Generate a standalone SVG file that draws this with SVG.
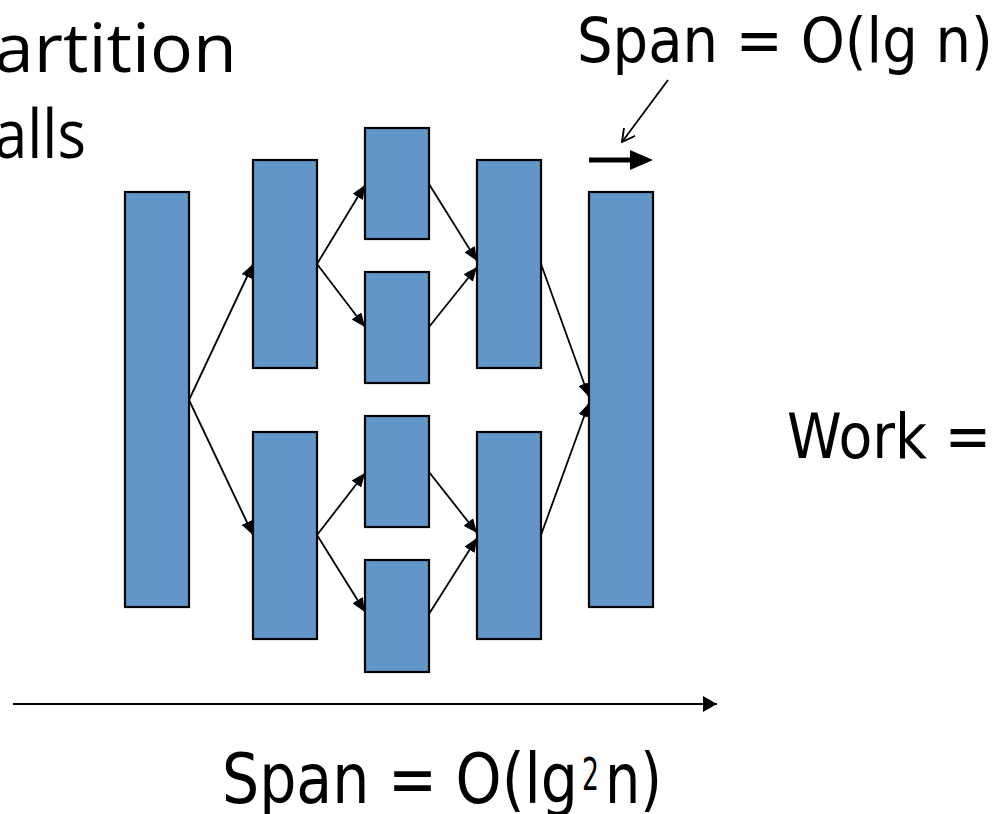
<svg xmlns="http://www.w3.org/2000/svg" width="1000" height="814" viewBox="0 0 1000 814">
<style>
.box{fill:#6296c8;stroke:#000;stroke-width:2.2}
.con{stroke:#000;stroke-width:1.8;fill:none}
.lbl{font-family:"DejaVu Sans","Liberation Sans",sans-serif;fill:#000}
.ttl{font-family:"Open Sans","Liberation Sans",sans-serif;fill:#000}
</style>
<defs>
<marker id="ah" viewBox="0 0 10 10" refX="10" refY="5" markerUnits="userSpaceOnUse" markerWidth="14" markerHeight="12" preserveAspectRatio="none" orient="auto">
<path d="M0,0 L10,5 L0,10 z" fill="#000"/>
</marker>
<marker id="ax" viewBox="0 0 10 10" refX="10" refY="5" markerUnits="userSpaceOnUse" markerWidth="14" markerHeight="16" preserveAspectRatio="none" orient="auto">
<path d="M0,0 L10,5 L0,10 z" fill="#000"/>
</marker>
<marker id="open" viewBox="0 0 12 12" refX="11" refY="6" markerUnits="userSpaceOnUse" markerWidth="14" markerHeight="14" orient="auto">
<path d="M0,0 L11,6 L0,12" fill="none" stroke="#000" stroke-width="1.6"/>
</marker>
</defs>
<g id="title">
<text class="ttl" x="-6" y="72" font-size="68" textLength="243" lengthAdjust="spacingAndGlyphs">artition</text>
<text class="ttl" x="-6" y="158" font-size="68" textLength="92" lengthAdjust="spacingAndGlyphs">alls</text>
</g>
<g id="n1"><rect class="box" x="125" y="192" width="64" height="415"/></g>
<g id="n2a"><rect class="box" x="253" y="160" width="64" height="208"/></g>
<g id="n2b"><rect class="box" x="253" y="432" width="64" height="207"/></g>
<g id="n3a"><rect class="box" x="365" y="128" width="64" height="111"/></g>
<g id="n3b"><rect class="box" x="365" y="272" width="64" height="111"/></g>
<g id="n3c"><rect class="box" x="365" y="416" width="64" height="111"/></g>
<g id="n3d"><rect class="box" x="365" y="560" width="64" height="112"/></g>
<g id="n4a"><rect class="box" x="477" y="160" width="64" height="208"/></g>
<g id="n4b"><rect class="box" x="477" y="432" width="64" height="207"/></g>
<g id="n5"><rect class="box" x="589" y="192" width="64" height="415"/></g>
<g id="connectors">
<line class="con" x1="189" y1="400" x2="253" y2="264" marker-end="url(#ah)"/>
<line class="con" x1="189" y1="400" x2="253" y2="535" marker-end="url(#ah)"/>
<line class="con" x1="317" y1="264" x2="365" y2="185" marker-end="url(#ah)"/>
<line class="con" x1="317" y1="264" x2="365" y2="327" marker-end="url(#ah)"/>
<line class="con" x1="429" y1="184" x2="477" y2="261" marker-end="url(#ah)"/>
<line class="con" x1="429" y1="327" x2="477" y2="267" marker-end="url(#ah)"/>
<line class="con" x1="317" y1="535" x2="365" y2="473" marker-end="url(#ah)"/>
<line class="con" x1="317" y1="535" x2="365" y2="612" marker-end="url(#ah)"/>
<line class="con" x1="429" y1="472" x2="477" y2="533" marker-end="url(#ah)"/>
<line class="con" x1="429" y1="614" x2="477" y2="538" marker-end="url(#ah)"/>
<line class="con" x1="541" y1="264" x2="589" y2="397" marker-end="url(#ah)"/>
<line class="con" x1="541" y1="535" x2="589" y2="403" marker-end="url(#ah)"/>
<line class="con" x1="668" y1="80" x2="622" y2="142" marker-end="url(#open)"/>
<line x1="589" y1="160" x2="632" y2="160" stroke="#000" stroke-width="5"/>
<polygon points="630,150 653,160 630,170" fill="#000"/>
<line x1="13" y1="704" x2="717" y2="704" stroke="#000" stroke-width="2" marker-end="url(#ax)"/>
</g>
<g id="labels">
<text class="lbl" x="577" y="62" font-size="62" textLength="416" lengthAdjust="spacingAndGlyphs">Span = O(lg n)</text>
<text class="lbl" x="787" y="458" font-size="62" textLength="204" lengthAdjust="spacingAndGlyphs">Work =</text>
<text class="lbl" x="222" y="803" font-size="70" textLength="356" lengthAdjust="spacingAndGlyphs">Span = O(lg</text>
<text class="lbl" x="582" y="790" font-size="44" textLength="17" lengthAdjust="spacingAndGlyphs">2</text>
<text class="lbl" x="605" y="803" font-size="70" textLength="57" lengthAdjust="spacingAndGlyphs">n)</text>
</g>
</svg>
